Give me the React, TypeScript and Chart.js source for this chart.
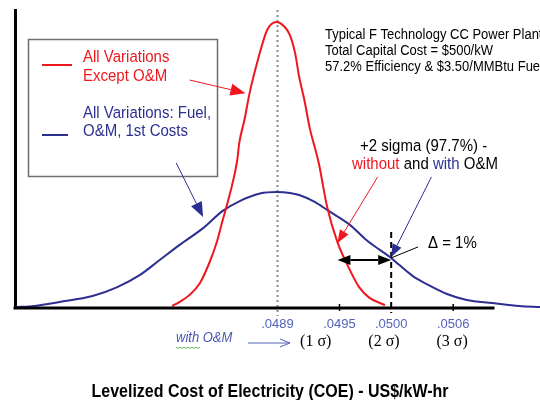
import React, { useEffect, useRef } from "react";
import { Chart, registerables } from "chart.js";

Chart.register(...registerables);

// ---- data ----
const redCost = [0.04788, 0.04795, 0.04805, 0.04815, 0.04824, 0.04831, 0.04837, 0.04844, 0.04851, 0.04853, 0.04858, 0.04863, 0.04871, 0.0488, 0.04889, 0.04897, 0.04902, 0.04907, 0.04911, 0.04916, 0.04921, 0.0493, 0.04938, 0.04948, 0.0496, 0.04969, 0.04979, 0.04994];
const redDensity = [0.7, 2.0, 4.4, 8.4, 15.1, 21.8, 29.5, 38.4, 49.5, 55.4, 63.1, 72.1, 83.2, 93.3, 96.0, 94.3, 91.6, 85.6, 77.5, 69.8, 60.7, 48.5, 34.0, 22.1, 12.8, 7.0, 3.4, 1.0];

const blueCost = [0.04636, 0.04655, 0.04679, 0.04711, 0.04735, 0.04757, 0.04776, 0.04795, 0.04818, 0.04837, 0.04853, 0.04873, 0.04889, 0.04902, 0.04911, 0.04926, 0.04938, 0.0496, 0.04976, 0.04989, 0.05, 0.05008, 0.05021, 0.05034, 0.05054, 0.05073, 0.05098, 0.05124, 0.05144];
const blueDensity = [0.3, 0.7, 2.0, 4.0, 7.0, 11.1, 16.1, 21.1, 26.8, 32.6, 35.8, 38.4, 38.9, 38.6, 37.9, 35.6, 32.9, 27.9, 22.8, 19.5, 16.8, 14.4, 10.7, 8.1, 4.7, 2.7, 1.7, 0.7, 0.3];

const tickValues = [0.0489, 0.0495, 0.05, 0.0506];
const tickLabels = [".0489", ".0495", ".0500", ".0506"];
const sigmaLabels = ["(1 σ)", "(2 σ)", "(3 σ)"];
const sigmaCost = [0.04927, 0.04993, 0.05059];

const axisMin = 0.04636;
const axisEnd = 0.051;
const curveEnd = 0.05144;

const meanCost = 0.0489;
const twoSigmaCost = 0.05;
const withoutTwoSigmaCost = 0.04948;

const legendRed = ["All Variations", "Except O&M"];
const legendBlue = ["All Variations: Fuel,", "O&M, 1st Costs"];
const noteLines = ["Typical F Technology CC Power Plant", "Total Capital Cost = $500/kW", "57.2% Efficiency & $3.50/MMBtu Fuel"];
const sigmaTitle = "+2 sigma (97.7%) -";
const sigmaLine2 = [
  { t: "without", c: "red" },
  { t: " and ", c: "black" },
  { t: "with", c: "blue" },
  { t: " O&M", c: "black" },
];
const deltaLabel = "Δ = 1%";
const withOMLabel = "with O&M";
const xTitle = "Levelized Cost of Electricity (COE) - US$/kW-hr";

const RED = "#f0161e";
const BLUE = "#2c2f90";
const TICKBLUE = "#5262ba";
const SANS = "Arial, 'Liberation Sans', sans-serif";
const SERIF = "'Times New Roman', 'Liberation Serif', serif";

function txt(ctx: CanvasRenderingContext2D, s: string, x: number, y: number, font: string, color: string, align: CanvasTextAlign = "left") {
  ctx.save();
  ctx.font = font;
  ctx.fillStyle = color;
  ctx.textAlign = align;
  ctx.textBaseline = "middle";
  ctx.translate(x, y);
  ctx.scale(1, 1.1);
  ctx.fillText(s, 0, 0);
  ctx.restore();
}

function arrow(ctx: CanvasRenderingContext2D, x1: number, y1: number, x2: number, y2: number, color: string, lw: number, hl: number, hw: number, both = false) {
  const a = Math.atan2(y2 - y1, x2 - x1);
  const cos = Math.cos(a), sin = Math.sin(a);
  const sx = both ? x1 + hl * cos : x1;
  const sy = both ? y1 + hl * sin : y1;
  const bx = x2 - hl * cos, by = y2 - hl * sin;
  ctx.save();
  ctx.strokeStyle = color;
  ctx.fillStyle = color;
  ctx.lineWidth = lw;
  ctx.beginPath();
  ctx.moveTo(sx, sy);
  ctx.lineTo(bx, by);
  ctx.stroke();
  const head = (tx: number, ty: number, ux: number, uy: number) => {
    ctx.beginPath();
    ctx.moveTo(tx, ty);
    ctx.lineTo(ux + (hw / 2) * -sin, uy + (hw / 2) * cos);
    ctx.lineTo(ux - (hw / 2) * -sin, uy - (hw / 2) * cos);
    ctx.closePath();
    ctx.fill();
  };
  head(x2, y2, bx, by);
  if (both) head(x1, y1, sx, sy);
  ctx.restore();
}

const decor = {
  id: "decor",
  beforeDatasetsDraw(chart: any) {
    const ctx: CanvasRenderingContext2D = chart.ctx;
    const xs = chart.scales.x;
    const ys = chart.scales.y;
    const area = chart.chartArea;
    ctx.save();
    // dotted mean line
    const xm = xs.getPixelForValue(meanCost);
    ctx.strokeStyle = "#8a8a8a";
    ctx.lineWidth = 2;
    ctx.setLineDash([2, 3]);
    ctx.beginPath();
    ctx.moveTo(xm, area.top);
    ctx.lineTo(xm, area.bottom + 8);
    ctx.stroke();
    // dashed 2-sigma line
    const x2 = xs.getPixelForValue(twoSigmaCost);
    ctx.strokeStyle = "#000";
    ctx.lineWidth = 2;
    ctx.setLineDash([6, 4]);
    ctx.beginPath();
    ctx.moveTo(x2, ys.getPixelForValue(25.5));
    ctx.lineTo(x2, area.bottom + 5);
    ctx.stroke();
    ctx.setLineDash([]);
    ctx.restore();
  },
  afterDraw(chart: any) {
    const ctx: CanvasRenderingContext2D = chart.ctx;
    const xs = chart.scales.x;
    const ys = chart.scales.y;
    const area = chart.chartArea;
    const P = (v: number, d: number) => [xs.getPixelForValue(v), ys.getPixelForValue(d)];
    ctx.save();
    // x axis line (ends before the curve tail)
    ctx.strokeStyle = "#000";
    ctx.lineWidth = 3;
    ctx.beginPath();
    ctx.moveTo(area.left - 1.5, area.bottom);
    ctx.lineTo(xs.getPixelForValue(axisEnd), area.bottom);
    ctx.stroke();
    // small tick marks
    ctx.lineWidth = 1.5;
    [tickValues[1], tickValues[3]].forEach((v) => {
      const x = xs.getPixelForValue(v);
      ctx.beginPath();
      ctx.moveTo(x, area.bottom - 4);
      ctx.lineTo(x, area.bottom + 3);
      ctx.stroke();
    });

    // legend box
    ctx.strokeStyle = "#6e6e6e";
    ctx.lineWidth = 1.5;
    ctx.strokeRect(28.5, 39.5, 189, 137);
    ctx.lineWidth = 2;
    ctx.strokeStyle = RED;
    ctx.beginPath();
    ctx.moveTo(42, 65);
    ctx.lineTo(72, 65);
    ctx.stroke();
    ctx.strokeStyle = BLUE;
    ctx.beginPath();
    ctx.moveTo(42, 135);
    ctx.lineTo(68, 135);
    ctx.stroke();
    const f15 = `15px ${SANS}`;
    txt(ctx, legendRed[0], 83, 57, f15, RED);
    txt(ctx, legendRed[1], 83, 76, f15, RED);
    txt(ctx, legendBlue[0], 83, 113, f15, BLUE);
    txt(ctx, legendBlue[1], 83, 131, f15, BLUE);

    // note text
    const f13 = `13px ${SANS}`;
    noteLines.forEach((l, i) => txt(ctx, l, 325, 35 + i * 16, f13, "#000"));

    // legend arrows
    let a = P(0.04805, 76.5), b = P(0.04859, 72.1);
    arrow(ctx, a[0], a[1], b[0], b[1], RED, 1, 15, 12);
    a = P(0.04792, 48.7); b = P(0.04818, 30.5);
    arrow(ctx, a[0], a[1], b[0], b[1], BLUE, 1, 15, 12);

    // sigma annotation
    txt(ctx, sigmaTitle, 360, 146, f15, "#000");
    ctx.font = f15;
    let cx = 352;
    sigmaLine2.forEach((seg) => {
      const col = seg.c === "red" ? RED : seg.c === "blue" ? BLUE : "#000";
      txt(ctx, seg.t, cx, 164, f15, col);
      cx += ctx.measureText(seg.t).width;
    });
    a = P(0.04987, 44.0); b = P(withoutTwoSigmaCost, 21.8);
    arrow(ctx, a[0], a[1], b[0], b[1], RED, 1, 13, 10);
    a = P(0.05039, 44.0); b = P(twoSigmaCost, 17.1);
    arrow(ctx, a[0], a[1], b[0], b[1], BLUE, 1, 13, 10);

    // double arrow between the two +2 sigma points
    a = P(withoutTwoSigmaCost, 16.1); b = P(twoSigmaCost, 16.1);
    arrow(ctx, a[0], a[1], b[0], b[1], "#000", 2, 13, 10, true);

    // delta label
    a = P(twoSigmaCost, 16.8); b = P(0.05026, 20.5);
    ctx.strokeStyle = "#000";
    ctx.lineWidth = 1;
    ctx.beginPath();
    ctx.moveTo(a[0], a[1]);
    ctx.lineTo(b[0], b[1]);
    ctx.stroke();
    txt(ctx, deltaLabel, 428, 243, f15, "#000");

    // below axis
    txt(ctx, withOMLabel, 176, 338, `italic 13px ${SANS}`, "#4a56b0");
    ctx.strokeStyle = "#6fae5a";
    ctx.lineWidth = 1;
    ctx.beginPath();
    for (let i = 0; i <= 12; i++) {
      const x = 176 + i * 2;
      const y = 347 + (i % 2 === 0 ? 0 : 1.5);
      if (i === 0) ctx.moveTo(x, y);
      else ctx.lineTo(x, y);
    }
    ctx.stroke();
    ctx.strokeStyle = "#5262ba";
    ctx.lineWidth = 1;
    ctx.beginPath();
    ctx.moveTo(248, 343);
    ctx.lineTo(290, 343);
    ctx.moveTo(280, 339);
    ctx.lineTo(290, 343);
    ctx.lineTo(280, 347);
    ctx.stroke();
    sigmaLabels.forEach((s, i) => {
      txt(ctx, s, xs.getPixelForValue(sigmaCost[i]), 341, `16px ${SERIF}`, "#000", "center");
    });

    // axis title
    txt(ctx, xTitle, 270, 392, `bold 16px ${SANS}`, "#000", "center");
    ctx.restore();
  },
};

export default function App() {
  const ref = useRef<HTMLCanvasElement>(null);
  useEffect(() => {
    if (!ref.current) return;
    const chart = new Chart(ref.current, {
      type: "line",
      data: {
        datasets: [
          {
            label: "All Variations Except O&M",
            data: redCost.map((x, i) => ({ x, y: redDensity[i] })),
            borderColor: RED,
            borderWidth: 2,
            pointRadius: 0,
            cubicInterpolationMode: "monotone",
            clip: false,
          },
          {
            label: "All Variations: Fuel, O&M, 1st Costs",
            data: blueCost.map((x, i) => ({ x, y: blueDensity[i] })),
            borderColor: BLUE,
            borderWidth: 2,
            pointRadius: 0,
            cubicInterpolationMode: "monotone",
            clip: false,
          },
        ],
      },
      options: {
        animation: false,
        responsive: false,
        layout: { padding: { top: 10, right: 0, left: 0, bottom: 0 } },
        plugins: { legend: { display: false }, tooltip: { enabled: false }, title: { display: false } },
        scales: {
          x: {
            type: "linear",
            min: axisMin,
            max: curveEnd,
            afterFit: (s: any) => {
              s.height = 92;
            },
            afterBuildTicks: (s: any) => {
              s.ticks = tickValues.map((v) => ({ value: v }));
            },
            grid: { display: false, drawTicks: false },
            border: { display: false },
            ticks: {
              autoSkip: false,
              maxRotation: 0,
              minRotation: 0,
              padding: 9,
              color: TICKBLUE,
              font: { family: SANS, size: 13 },
              callback: (_v: any, i: number) => tickLabels[i],
            },
          },
          y: {
            min: 0,
            max: 100,
            afterFit: (s: any) => {
              s.width = 15;
            },
            grid: { display: false, drawTicks: false },
            border: { display: true, color: "#000", width: 3 },
            ticks: { display: false },
          },
        },
      },
      plugins: [decor],
    } as any);
    return () => chart.destroy();
  }, []);
  return (
    <div style={{ position: "absolute", left: 0, top: 0, width: 540, height: 400, background: "#fff" }}>
      <canvas ref={ref} width={540} height={400} />
    </div>
  );
}
